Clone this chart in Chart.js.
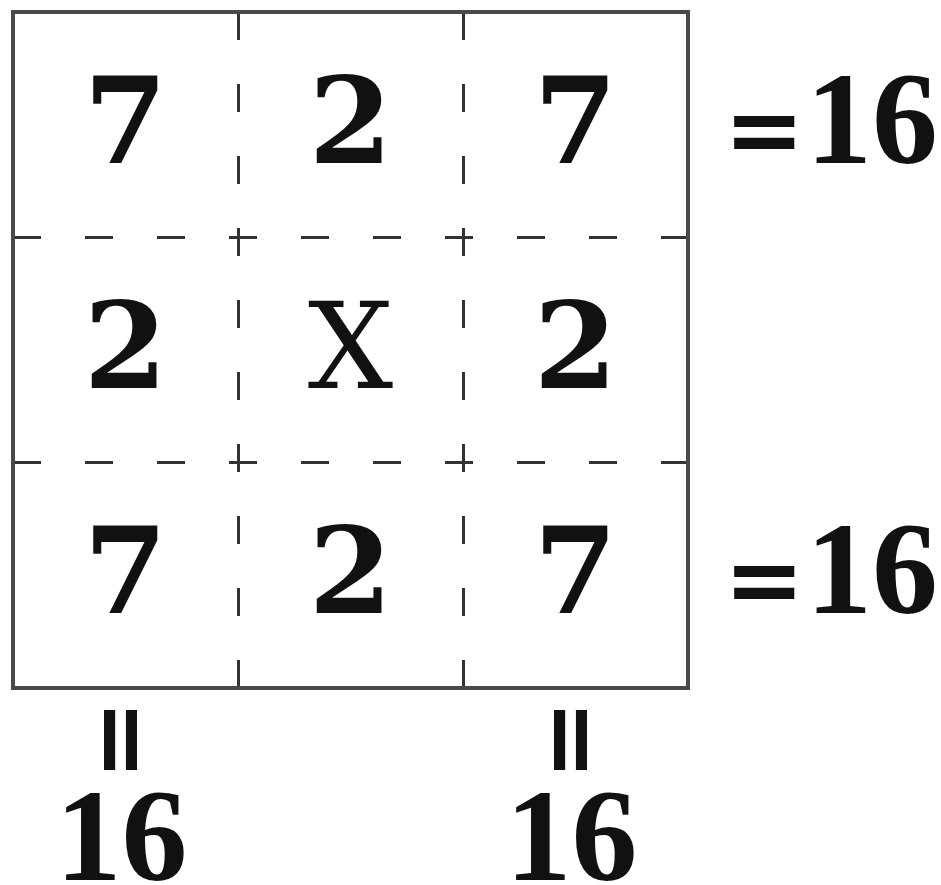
<!DOCTYPE html>
<html>
<head>
<meta charset="utf-8">
<script src="https://cdn.jsdelivr.net/npm/chart.js@4.4.0/dist/chart.umd.min.js"></script>
<style>
    body { margin: 0; background: #fff; }
    #wrap { width: 941px; height: 885px; }
</style>
</head>
<body>
<div id="wrap"><canvas id="grid-chart"></canvas></div>
<script>
// cell values, row by row (top to bottom)
const row1 = ['7', '2', '7']
const row2 = ['2', 'X', '2']
const row3 = ['7', '2', '7']
const rows = [row1, row2, row3]

// sums written outside the square
const rowSums = ['16', '', '16']
const colSums = ['16', '', '16']

let points = []
for (let r = 0; r < rows.length; r++) {
    for (let c = 0; c < rows[r].length; c++) {
        points.push({ x: c + 0.5, y: r + 0.5, label: rows[r][c] })
    }
}

const EQ_FONT = 'bold 96px "DejaVu Sans"'
const SUM_FONT = 'bold 132px "Liberation Serif"'

// ============ PLUGIN : box + texts ============

const puzzlePlugin = {
    id: 'puzzle',
    afterDraw(chart) {
        const ctx = chart.ctx
        const area = chart.chartArea
        const xs = chart.scales.x
        const ys = chart.scales.y

        // solid outer frame
        ctx.save()
        ctx.strokeStyle = '#4a4a4a'
        ctx.lineWidth = 4
        ctx.strokeRect(area.left, area.top, area.right - area.left, area.bottom - area.top)
        ctx.restore()

        // numbers in the cells
        const meta = chart.getDatasetMeta(0)
        ctx.save()
        ctx.fillStyle = '#111'
        ctx.textAlign = 'center'
        ctx.textBaseline = 'alphabetic'
        meta.data.forEach((pt, i) => {
            const label = points[i].label
            if (label === 'X') {
                ctx.font = '120px "DejaVu Serif"'
            } else {
                ctx.font = 'bold 120px "DejaVu Serif"'
            }
            ctx.fillText(label, pt.x, pt.y + 38)
        })

        // row sums on the right  ( "=" then the number )
        rowSums.forEach((txt, r) => {
            if (!txt) return
            const base = ys.getPixelForValue(r + 0.5) + 38
            ctx.textAlign = 'left'
            ctx.font = EQ_FONT
            ctx.fillText('=', area.right + 36, base)
            ctx.font = SUM_FONT
            ctx.fillText(txt, area.right + 118, base)
        })

        // column sums below, with a turned "="
        colSums.forEach((txt, c) => {
            if (!txt) return
            const cx = xs.getPixelForValue(c + 0.5)
            ctx.textAlign = 'center'
            ctx.font = SUM_FONT
            ctx.fillText(txt, cx - 4, area.bottom + 192)
            ctx.save()
            ctx.translate(cx - 3, area.bottom + 52)
            ctx.rotate(Math.PI / 2)
            ctx.font = EQ_FONT
            ctx.fillText('=', 0, 96 * 0.34)
            ctx.restore()
        })
        ctx.restore()
    }
}

// ============ SCATTER (grid) ============

const gridColor = c => (c.tick.value === 0 || c.tick.value === 3) ? 'rgba(0,0,0,0)' : '#333'

const ctx = document.getElementById('grid-chart')
const chart = new Chart(ctx, {
    type: 'scatter',
    data: {
        datasets: [{
            data: points,
            pointRadius: 0,
            pointHoverRadius: 0
        }]
    },
    options: {
        responsive: true,
        maintainAspectRatio: false,
        animation: false,
        events: [],
        layout: {
            padding: { left: 13, top: 12, right: 253, bottom: 197 }
        },
        plugins: {
            legend: { display: false },
            tooltip: { enabled: false }
        },
        scales: {
            x: {
                min: 0,
                max: 3,
                ticks: { display: false, stepSize: 1 },
                grid: { drawTicks: false, lineWidth: 3, color: gridColor },
                border: { display: false, dash: [28, 44] }
            },
            y: {
                min: 0,
                max: 3,
                reverse: true,
                ticks: { display: false, stepSize: 1 },
                grid: { drawTicks: false, lineWidth: 3, color: gridColor },
                border: { display: false, dash: [28, 44] }
            }
        }
    },
    plugins: [puzzlePlugin]
})
</script>
</body>
</html>
